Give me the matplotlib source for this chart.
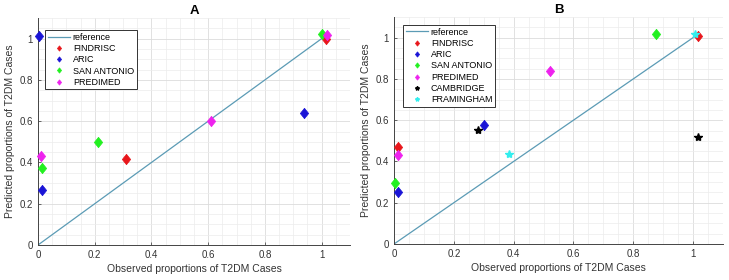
import matplotlib
matplotlib.use("Agg")
import matplotlib.pyplot as plt
from matplotlib.ticker import MultipleLocator
from matplotlib.path import Path

plt.rcParams['font.family'] = ['Liberation Sans', 'DejaVu Sans']

ref_x = [0, 1]
ref_y = [0, 1]

# Panel A
a_findrisc_x = [0.312, 1.015]
a_findrisc_y = [0.419, 0.998]
a_aric_x = [0.003, 0.015, 0.938]
a_aric_y = [1.015, 0.267, 0.642]
a_sanant_x = [0.015, 0.212, 1.0]
a_sanant_y = [0.374, 0.50, 1.022]
a_predimed_x = [0.012, 0.61, 1.02]
a_predimed_y = [0.433, 0.602, 1.02]

# Panel B
b_findrisc_x = [0.012, 1.018]
b_findrisc_y = [0.47, 1.006]
b_aric_x = [0.012, 0.30]
b_aric_y = [0.253, 0.575]
b_sanant_x = [0.003, 0.876]
b_sanant_y = [0.298, 1.018]
b_predimed_x = [0.012, 0.52]
b_predimed_y = [0.43, 0.836]
b_cambridge_x = [0.28, 1.018]
b_cambridge_y = [0.554, 0.518]
b_framingham_x = [0.385, 1.007]
b_framingham_y = [0.438, 1.018]

REF_COLOR = '#5b9bb5'
RED = '#e8161b'
BLUE = '#1a14d6'
GREEN = '#22f020'
MAG = '#ee22ee'

DIAMOND = Path([(0, 1), (0.8, 0), (0, -1), (-0.8, 0), (0, 1)],
               [Path.MOVETO, Path.LINETO, Path.LINETO, Path.LINETO, Path.CLOSEPOLY])

fig = plt.figure(figsize=(7.29, 2.8), dpi=100)
axA = fig.add_axes([38/729, 1-245/280, (350-38)/729, (245-18)/280])
axB = fig.add_axes([394/729, 1-244/280, (723-394)/729, (244-17)/280])

def style(ax, title):
    ax.set_xlim(0, 1.1)
    ax.set_ylim(0, 1.1)
    ax.xaxis.set_minor_locator(MultipleLocator(0.05))
    ax.yaxis.set_minor_locator(MultipleLocator(0.05))
    ax.set_xticks([0, 0.2, 0.4, 0.6, 0.8, 1])
    ax.set_yticks([0, 0.2, 0.4, 0.6, 0.8, 1])
    ax.set_xticklabels(['0', '0.2', '0.4', '0.6', '0.8', '1'])
    ax.set_yticklabels(['0', '0.2', '0.4', '0.6', '0.8', '1'])
    ax.grid(which='major', color='#dcdcdc', linewidth=0.6)
    ax.grid(which='minor', color='#ececec', linewidth=0.5)
    ax.set_axisbelow(True)
    ax.tick_params(which='both', direction='in', labelsize=7, colors='#333333', length=2, width=0.5)
    ax.tick_params(which='minor', length=0)
    for s in ['top', 'right']:
        ax.spines[s].set_visible(False)
    for s in ['left', 'bottom']:
        ax.spines[s].set_color('#444444')
        ax.spines[s].set_linewidth(0.7)
    ax.set_title(title, fontsize=9.5, fontweight='bold', pad=3)
    ax.set_xlabel('Observed proportions of T2DM Cases', fontsize=7.5, color='#333333', labelpad=3)
    ax.set_ylabel('Predicted proportions of T2DM Cases', fontsize=7.5, color='#333333', labelpad=3)

ms = 7.5
def dia(ax, x, y, c, label):
    ax.plot(x, y, linestyle='none', marker=DIAMOND, markersize=ms, color=c,
            markeredgecolor=c, markeredgewidth=0.5, label=label, clip_on=False, zorder=3)

def legend(ax, anchor):
    leg = ax.legend(loc='upper left', bbox_to_anchor=anchor, fontsize=6.5, frameon=True,
                    fancybox=False, edgecolor='#333333', framealpha=1, markerscale=0.5,
                    handlelength=2.5, borderpad=0.3, labelspacing=0.25, handletextpad=0.3,
                    borderaxespad=0)
    leg.get_frame().set_linewidth(0.7)
    leg.set_zorder(5)

# A
axA.plot(ref_x, ref_y, color=REF_COLOR, linewidth=0.9, label='reference')
dia(axA, a_findrisc_x, a_findrisc_y, RED, 'FINDRISC')
dia(axA, a_aric_x, a_aric_y, BLUE, 'ARIC')
dia(axA, a_sanant_x, a_sanant_y, GREEN, 'SAN ANTONIO')
dia(axA, a_predimed_x, a_predimed_y, MAG, 'PREDIMED')
style(axA, 'A')
legend(axA, (0.022, 0.947))

# B
axB.plot(ref_x, ref_y, color=REF_COLOR, linewidth=0.9, label='reference')
dia(axB, b_findrisc_x, b_findrisc_y, RED, 'FINDRISC')
dia(axB, b_aric_x, b_aric_y, BLUE, 'ARIC')
dia(axB, b_sanant_x, b_sanant_y, GREEN, 'SAN ANTONIO')
dia(axB, b_predimed_x, b_predimed_y, MAG, 'PREDIMED')
axB.plot(b_cambridge_x, b_cambridge_y, linestyle='none', marker='*', markersize=6,
         color='black', label='CAMBRIDGE', clip_on=False, zorder=3)
axB.plot(b_framingham_x, b_framingham_y, linestyle='none', marker='*', markersize=6,
         color='#33eeee', label='FRAMINGHAM', clip_on=False, zorder=3)
style(axB, 'B')
legend(axB, (0.027, 0.965))

fig.savefig('out.png', dpi=100)
